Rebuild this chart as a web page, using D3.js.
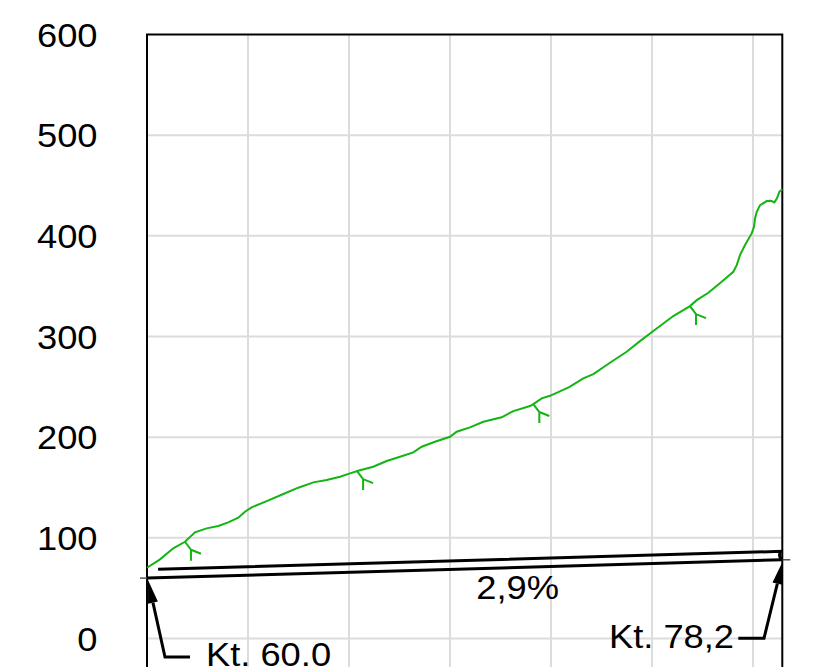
<!DOCTYPE html>
<html><head><meta charset="utf-8">
<script src="https://cdn.jsdelivr.net/npm/d3@7"></script>
<style>html,body{margin:0;padding:0;background:#fff;}svg{display:block;}</style>
</head><body>
<svg id="c" width="815" height="667"></svg>
<script>
// ---- data ----
const distances = [0,12.9,26,37.6,47.5,59.1,70.6,80.5,90.4,97,103.6,118.5,135,149.8,164.7,177.9,191.1,201,209,224,237.3,250.5,263.7,272,285.1,300,306.6,319.8,333,351.2,362.7,379.2,382.5,390.8,399,418,432,441.9,458.4,474.9,488.1,501.3,521.1,537.6,544.3,555.8,569,580.5,583.9,587.1,592.1,598.7,601,602,603.7,607,613.6,617.8,621.1,623.6,626.1,629];
const elevations = [70.3,78.6,89.6,96.1,105.5,109.4,111.7,115.4,120,125.9,130.3,136.5,143.5,149.8,155.1,157.4,160.7,164,166.6,170.6,176.3,180.5,184.9,190.5,195.4,200.4,205.4,209.7,215.3,219.7,225.9,230.9,232.9,238.5,241.1,249.7,258.4,262.7,273.9,284.8,295.4,305.4,320.3,330.2,336.1,343.4,354.3,364.3,370.9,380.8,390.8,402.4,409,417.3,423.9,430.5,434.5,434.8,433.2,437.1,443.7,446.4];
const markerDistances = [37.6, 208, 382.5, 537.6];
const pipeDistances = [0, 629];
const pipeLevels = [60.0, 78.2];
const pipeUpperOffset = 8.4;
const pipeUpperStart = 11;
const yTicks = [0,100,200,300,400,500,600];
const xGrid = [100,200,300,400,500,600];
const slopeLabel = "2,9%";
const startLabel = "Kt. 60.0";
const endLabel = "Kt. 78,2";

// ---- scales ----
const svg = d3.select("#c");
const x = d3.scaleLinear().domain([0, 629]).range([147, 782.3]);
const y = d3.scaleLinear().domain([0, 600]).range([638.5, 34.5]);
const H = 667;
const FONT = "'Liberation Sans', Arial, sans-serif";
const SX = 1.1;

// gridlines
svg.append("g").selectAll("line").data(xGrid).join("line")
  .attr("x1", d => x(d)).attr("x2", d => x(d)).attr("y1", y(600)).attr("y2", H)
  .attr("stroke", "#dcdcdc").attr("stroke-width", 2);
svg.append("g").selectAll("line").data(yTicks.filter(d => d < 600)).join("line")
  .attr("x1", x(0)).attr("x2", x(629)).attr("y1", d => y(d)).attr("y2", d => y(d))
  .attr("stroke", "#dcdcdc").attr("stroke-width", 2);

// y axis labels
const ax = svg.append("g").attr("transform", `translate(${x(0)},0)`)
  .call(d3.axisLeft(y).tickValues(yTicks).tickSize(0).tickFormat(d3.format("d")));
ax.select(".domain").remove();
ax.selectAll("text")
  .attr("x", null).attr("dy", null)
  .attr("transform", `translate(-49.5,11.5) scale(${SX},1)`)
  .attr("text-anchor", "end")
  .style("font-family", FONT).style("font-size", "33px").attr("fill", "#000");

// frame
svg.append("path")
  .attr("d", `M${x(0)},${H} L${x(0)},${y(600)} L${x(629)},${y(600)} L${x(629)},${H}`)
  .attr("fill", "none").attr("stroke", "#000").attr("stroke-width", 2);

// small gray level ticks
svg.append("line").attr("x1", x(0) - 7).attr("x2", x(0)).attr("y1", y(pipeLevels[0])).attr("y2", y(pipeLevels[0]))
  .attr("stroke", "#555").attr("stroke-width", 1.5);
svg.append("line").attr("x1", x(629)).attr("x2", x(629) + 8).attr("y1", y(pipeLevels[1])).attr("y2", y(pipeLevels[1]))
  .attr("stroke", "#555").attr("stroke-width", 1.5);

// pipe lines
const pipeAt = d => pipeLevels[0] + (pipeLevels[1] - pipeLevels[0]) * (d - pipeDistances[0]) / (pipeDistances[1] - pipeDistances[0]);
svg.append("line")
  .attr("x1", x(pipeDistances[0])).attr("y1", y(pipeLevels[0]))
  .attr("x2", x(pipeDistances[1])).attr("y2", y(pipeLevels[1]))
  .attr("stroke", "#000").attr("stroke-width", 3);
const uEnd = pipeDistances[1] - 1.5;
svg.append("path")
  .attr("d", `M${x(pipeUpperStart)},${y(pipeAt(pipeUpperStart) + pipeUpperOffset)} L${x(uEnd)},${y(pipeAt(uEnd) + pipeUpperOffset)} Q${x(uEnd) - 3},${(y(pipeAt(uEnd) + pipeUpperOffset) + y(pipeLevels[1])) / 2 + 1} ${x(pipeDistances[1])},${y(pipeLevels[1])}`)
  .attr("fill", "none").attr("stroke", "#000").attr("stroke-width", 3);

// green profile
const line = d3.line().x((d, i) => x(distances[i])).y(d => y(d));
svg.append("path").datum(elevations)
  .attr("d", line).attr("fill", "none").attr("stroke", "#14b414").attr("stroke-width", 2);

// markers on profile
const interp = d3.scaleLinear().domain(distances).range(elevations);
svg.append("g").selectAll("path").data(markerDistances).join("path")
  .attr("d", d => {
    const px = x(d), py = y(interp(d));
    const fx = px + 6, fy = py + 8;
    return `M${px},${py} L${fx},${fy} L${fx},${fy + 11} M${fx},${fy} L${fx + 10},${fy + 4}`;
  })
  .attr("fill", "none").attr("stroke", "#14b414").attr("stroke-width", 2);

// leader arrows
function arrow(tipX, tipY, elbowX, elbowY, endX) {
  const dx = tipX - elbowX, dy = tipY - elbowY, L = Math.hypot(dx, dy);
  const ux = dx / L, uy = dy / L, hl = 23, hw = 5;
  const bx = tipX - ux * hl, by = tipY - uy * hl;
  svg.append("path")
    .attr("d", `M${endX},${elbowY} L${elbowX},${elbowY} L${bx},${by}`)
    .attr("fill", "none").attr("stroke", "#000").attr("stroke-width", 3);
  svg.append("path")
    .attr("d", `M${tipX},${tipY} L${bx - uy * hw},${by + ux * hw} L${bx + uy * hw},${by - ux * hw} Z`)
    .attr("fill", "#000");
}
arrow(x(0) + 1, y(pipeLevels[0]) + 2, 165, 657, 190);
arrow(x(629) + 0.5, y(pipeLevels[1]) + 1.5, 764, 638.3, 738.3);

// labels
function label(txt, tx, ty, anchor) {
  svg.append("text").text(txt)
    .attr("transform", `translate(${tx},${ty}) scale(${SX},1)`)
    .attr("text-anchor", anchor)
    .style("font-family", FONT).style("font-size", "33px").attr("fill", "#000");
}
label(slopeLabel, x((pipeDistances[0] + pipeDistances[1]) / 2) + 53, 599, "middle");
label(startLabel, 206, 666, "start");
label(endLabel, 734, 648, "end");
</script>
</body></html>
